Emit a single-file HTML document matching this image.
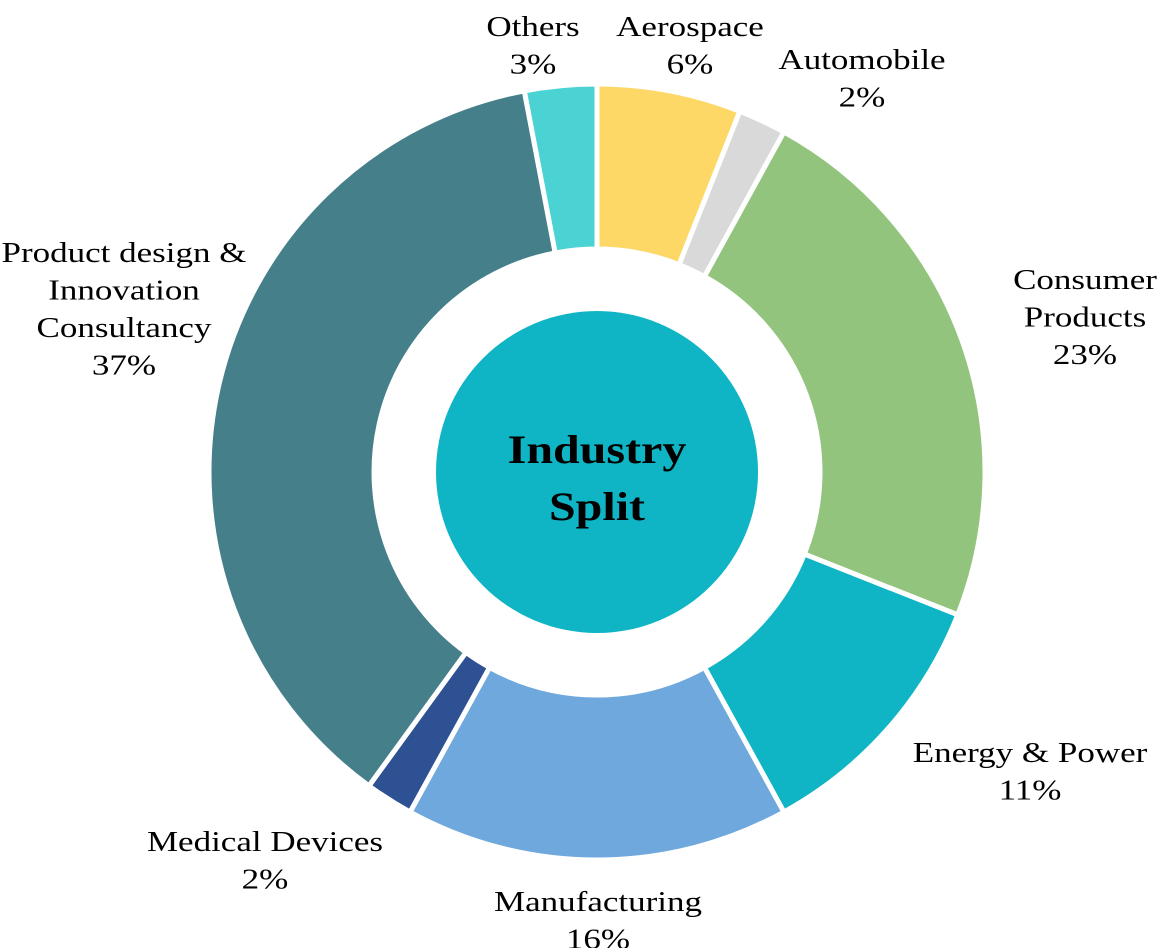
<!DOCTYPE html>
<html><head><meta charset="utf-8"><style>
html,body{margin:0;padding:0;background:#fff;}
svg{display:block;}
text{font-family:"Liberation Serif",serif;font-size:28px;fill:#000;}
</style></head><body>
<svg id="chart" width="1162" height="948" viewBox="0 0 1162 948">
<g id="slices"></g>
<circle cx="597" cy="472" r="161" fill="#0fb5c4"/>
<g transform="translate(597,0) scale(1.2,1)">
<text x="0" y="463" text-anchor="middle" style="font-weight:bold;font-size:40px">Industry</text>
<text x="0" y="520" text-anchor="middle" style="font-weight:bold;font-size:40px">Split</text>
</g>
<g id="labels"></g>
</svg>
<script>
const categories = ["Aerospace","Automobile","Consumer Products","Energy & Power","Manufacturing","Medical Devices","Product design & Innovation Consultancy","Others"];
const values = [6,2,23,11,16,2,37,3];
const colors = ["#fdd867","#d9d9d9","#93c47d","#0fb5c4","#6fa8dc","#2d5193","#457f8a","#4bd3d3"];
const labelLines = [["Aerospace","6%"],["Automobile","2%"],["Consumer","Products","23%"],["Energy & Power","11%"],["Manufacturing","16%"],["Medical Devices","2%"],["Product design &","Innovation","Consultancy","37%"],["Others","3%"]];
const labelPos = [[690,26],[862,59],[1085,279],[1030,752],[598,901],[265,841],[124,252],[533,26]];
const cx=597, cy=472, R=388, r=223;
const NS="http://www.w3.org/2000/svg";
const total = values.reduce((a,b)=>a+b,0);
function pt(rad,a){return [cx+rad*Math.sin(a), cy-rad*Math.cos(a)];}
let acc=0;
const sg=document.getElementById('slices');
values.forEach((v,i)=>{
  const a0=acc/total*2*Math.PI; acc+=v; const a1=acc/total*2*Math.PI;
  const large=(a1-a0)>Math.PI?1:0;
  const [x0,y0]=pt(R,a0),[x1,y1]=pt(R,a1),[x2,y2]=pt(r,a1),[x3,y3]=pt(r,a0);
  const p=document.createElementNS(NS,'path');
  p.setAttribute('d',`M${x0},${y0}A${R},${R} 0 ${large} 1 ${x1},${y1}L${x2},${y2}A${r},${r} 0 ${large} 0 ${x3},${y3}Z`);
  p.setAttribute('fill',colors[i]);
  p.setAttribute('stroke','#fff');
  p.setAttribute('stroke-width','5');
  
  
  sg.appendChild(p);
});
const lg=document.getElementById('labels');
labelLines.forEach((lines,i)=>{
  const g=document.createElementNS(NS,'g');
  g.setAttribute('transform',`translate(${labelPos[i][0]},0) scale(1.25,1)`);
  const t=document.createElementNS(NS,'text');
  t.setAttribute('x',0);
  t.setAttribute('y',labelPos[i][1]+10);
  t.setAttribute('text-anchor','middle');
  
  
  lines.forEach((ln,j)=>{
    const s=document.createElementNS(NS,'tspan');
    s.setAttribute('x',0);
    if(j>0) s.setAttribute('dy','37.5');
    s.textContent=ln;
    t.appendChild(s);
  });
  g.appendChild(t);
  lg.appendChild(g);
});
</script>
</body></html>
